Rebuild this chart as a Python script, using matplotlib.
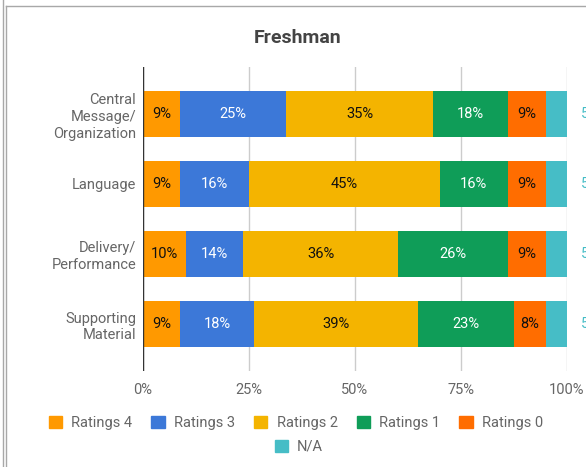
import matplotlib
matplotlib.use("Agg")
import matplotlib.pyplot as plt
from matplotlib.lines import Line2D
from matplotlib.patches import Patch

plt.rcParams["font.family"] = ["Roboto", "DejaVu Sans"]

categories = ["Central\nMessage/\nOrganization", "Language", "Delivery/\nPerformance", "Supporting\nMaterial"]
series = ["Ratings 4", "Ratings 3", "Ratings 2", "Ratings 1", "Ratings 0", "N/A"]
ratings_4 = [8.7, 8.7, 10.1, 8.7]
ratings_3 = [25.0, 16.3, 13.6, 17.6]
ratings_2 = [34.8, 45.0, 36.4, 38.5]
ratings_1 = [17.6, 16.0, 25.9, 22.6]
ratings_0 = [8.9, 9.0, 9.0, 7.6]
not_applicable = [5.0, 5.0, 5.0, 5.0]
xticks = [0, 25, 50, 75, 100]

values = [ratings_4, ratings_3, ratings_2, ratings_1, ratings_0, not_applicable]
colors = ["#ff9900", "#3c78d8", "#f4b400", "#0f9d58", "#ff6d00", "#46bdc6"]
text_colors = ["#111111", "#ffffff", "#111111", "#ffffff", "#111111", None]

fig = plt.figure(figsize=(5.86, 4.67), dpi=100)
ax = fig.add_axes([0.2440, 0.2056, 0.7235, 0.6510])

y = list(range(len(categories)))
left = [0.0] * len(categories)
for vals, col, tcol in zip(values, colors, text_colors):
    ax.barh(y, vals, left=left, height=0.657, color=col, zorder=3)
    for i, v in enumerate(vals):
        if tcol is not None:
            ax.text(left[i] + v / 2, y[i], f"{int(v + 0.5)}%", ha="center", va="center",
                    fontsize=10.5, color=tcol, zorder=4)
        else:
            # N/A labels sit outside the bar (cut off by the screenshot edge)
            ax.text(103.3, y[i], f"{int(v + 0.5)}%", ha="left", va="center",
                    fontsize=10.5, color=col, clip_on=False)
    left = [a + b for a, b in zip(left, vals)]

ax.set_xlim(0, 100)
ax.set_ylim(3.671, -0.671)
ax.set_xticks(xticks)
ax.set_xticklabels([f"{t}%" for t in xticks])
ax.set_yticks(y)
ax.set_yticklabels(categories, linespacing=1.25)
ax.tick_params(axis="both", length=0, labelsize=10.5, labelcolor="#666666")
ax.tick_params(axis="y", pad=5)
ax.tick_params(axis="x", pad=9)
ax.grid(axis="x", color="#cccccc", linewidth=1, zorder=0)
ax.axvline(0, color="#333333", linewidth=1, zorder=5)
for s in ax.spines.values():
    s.set_visible(False)

fig.suptitle("Freshman", x=0.507, y=0.937, fontsize=14, fontweight="bold", color="#444444")

handles = [Patch(facecolor=c, edgecolor=c) for c in colors]
fig.legend(handles[:5], series[:5], ncol=5, loc="center", bbox_to_anchor=(0.505, 0.094),
           frameon=False, fontsize=10.5, handlelength=0.9, handleheight=0.9,
           handletextpad=0.65, columnspacing=1.3, labelcolor="#666666")
fig.legend(handles[5:], series[5:], ncol=1, loc="center", bbox_to_anchor=(0.51, 0.043),
           frameon=False, fontsize=10.5, handlelength=0.9, handleheight=0.9,
           handletextpad=0.65, labelcolor="#666666")

# card border from the screenshot
border = "#a8a8a8"
fig.add_artist(Line2D([2.5 / 586, 2.5 / 586], [0, 1], color=border, lw=1, transform=fig.transFigure))
fig.add_artist(Line2D([5.5 / 586, 5.5 / 586], [0, 1 - 5.5 / 467], color=border, lw=1, transform=fig.transFigure))
fig.add_artist(Line2D([5.5 / 586, 1], [1 - 5.5 / 467, 1 - 5.5 / 467], color=border, lw=1, transform=fig.transFigure))

fig.savefig("out.png", dpi=100)
